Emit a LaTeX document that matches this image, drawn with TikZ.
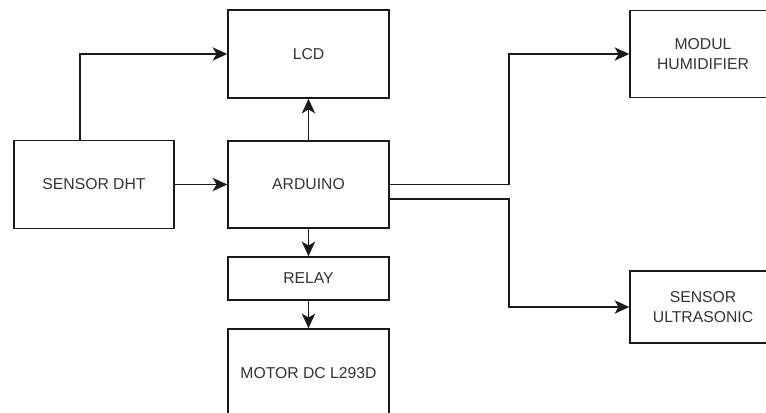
\documentclass[tikz,border=0pt]{standalone}
\usepackage{fontspec}
\setmainfont{Liberation Sans}
\usetikzlibrary{arrows.meta}
\definecolor{inkline}{HTML}{1A1A1A}
\definecolor{inktext}{HTML}{333333}

\begin{document}
\begin{tikzpicture}[x=0.75pt,y=-0.75pt,
  font=\fontsize{11.8}{15}\selectfont,
  block/.style={draw=inkline,line width=1.1pt,fill=white,text=inktext,align=center,inner sep=0pt},
  link/.style={draw=inkline,line width=1.1pt,-{Stealth[length=11pt,width=10pt,inset=3pt]}}]
  \useasboundingbox (0,0) rectangle (766,412);
  \clip (0,0) rectangle (766,412);
  % blocks, centres in pixels of the sheet
  \node[block,minimum width=120.75pt,minimum height=66pt] (lcd) at (308.5,54) {LCD};
  \node[block,minimum width=120pt,minimum height=66pt] (dht) at (94,184.5) {SENSOR DHT};
  \node[block,minimum width=120.75pt,minimum height=65.25pt] (arduino) at (308.5,184.5) {ARDUINO};
  \node[block,minimum width=120.75pt,minimum height=32.25pt] (relay) at (308.5,278.5) {RELAY};
  \node[block,minimum width=120.75pt,minimum height=66pt] (motor) at (308.5,373) {MOTOR DC L293D};
  \node[block,minimum width=109.5pt,minimum height=65.25pt] (humid) at (703,54) {MODUL\\HUMIDIFIER};
  \node[block,minimum width=109.5pt,minimum height=54pt] (ultra) at (703,307) {SENSOR\\ULTRASONIC};
  \coordinate (bus) at (509,0);
  % sensor feeds LCD and arduino
  \draw[link] ([xshift=-10.5pt]dht.north) |- (lcd.west);
  \draw[link] (dht.east) -- (arduino.west);
  \draw[link] (arduino.north) -- (lcd.south);
  % drive chain
  \draw[link] (arduino.south) -- (relay.north);
  \draw[link] (relay.south) -- (motor.north);
  % outputs on the right
  \draw[link] (arduino.east) -- (arduino.east -| bus) |- (humid.west);
  \draw[link] ([yshift=-10.9pt]arduino.east) -| (bus |- ultra.west) -- (ultra.west);
\end{tikzpicture}
\end{document}
